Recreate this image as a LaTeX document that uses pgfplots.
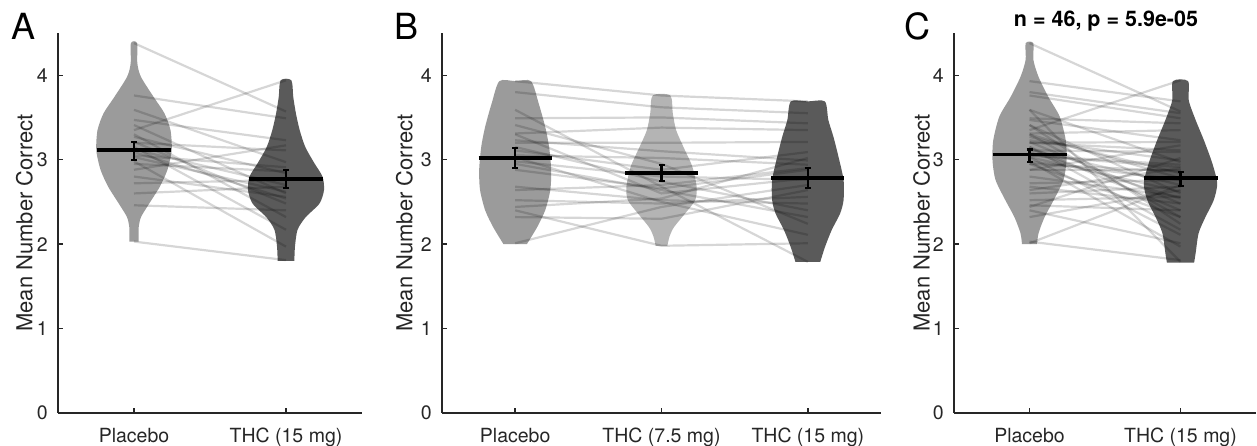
\documentclass[border=0pt]{standalone}
\usepackage{fontspec}
\setmainfont{TeX Gyre Heros}
\usepackage{pgfplots}
\usepackage{pgfplotstable}
\pgfplotsset{compat=1.18}

\definecolor{axc}{HTML}{262626}
\definecolor{vP}{HTML}{9B9B9B}
\definecolor{vM}{HTML}{B4B4B4}
\definecolor{vH}{HTML}{5A5A5A}

% ---------- paired subject lines ----------
\pgfplotstableread{
s x y
0 1 4.38
0 2 3.57
1 1 3.76
1 2 3.49
2 1 3.59
2 2 2.97
3 1 3.47
3 2 3.23
4 1 3.41
4 2 2.60
5 1 3.35
5 2 3.94
6 1 3.30
6 2 2.32
7 1 3.27
7 2 2.84
8 1 3.21
8 2 2.48
9 1 3.20
9 2 3.11
10 1 3.15
10 2 2.17
11 1 3.12
11 2 2.70
12 1 3.09
12 2 2.54
13 1 3.05
13 2 2.91
14 1 3.03
14 2 2.62
15 1 2.98
15 2 1.97
16 1 2.95
16 2 2.86
17 1 2.88
17 2 3.17
18 1 2.80
18 2 2.56
19 1 2.72
19 2 2.76
20 1 2.60
20 2 2.68
21 1 2.46
21 2 2.40
22 1 2.03
22 2 1.81
}\linesA

\pgfplotstableread{
s x y
0 1 3.93
0 2 3.76
0 3 3.69
1 1 3.80
1 2 3.62
1 3 3.55
2 1 3.59
2 2 2.68
2 3 1.79
3 1 3.49
3 2 3.50
3 3 3.43
4 1 3.41
4 2 2.95
4 3 2.24
5 1 3.31
5 2 3.38
5 3 3.35
6 1 3.30
6 2 2.60
6 3 2.78
7 1 3.23
7 2 3.10
7 3 2.99
8 1 3.20
8 2 3.20
8 3 3.21
9 1 3.15
9 2 2.74
9 3 2.40
10 1 3.11
10 2 2.88
10 3 3.09
11 1 3.05
11 2 3.02
11 3 2.94
12 1 3.03
12 2 2.50
12 3 2.11
13 1 2.98
13 2 2.80
13 3 2.76
14 1 2.95
14 2 2.64
14 3 2.32
15 1 2.88
15 2 2.66
15 3 2.88
16 1 2.68
16 2 2.52
16 3 2.48
17 1 2.64
17 2 2.70
17 3 2.90
18 1 2.52
18 2 2.48
18 3 2.56
19 1 2.44
19 2 2.54
19 3 3.02
20 1 2.40
20 2 1.98
20 3 2.01
21 1 2.32
21 2 2.30
21 3 2.64
22 1 2.01
22 2 2.44
22 3 2.70
}\linesB

\pgfplotstableread{
s x y
0 1 4.38
0 2 3.57
1 1 3.76
1 2 3.49
2 1 3.59
2 2 2.97
3 1 3.47
3 2 3.23
4 1 3.41
4 2 2.60
5 1 3.35
5 2 3.94
6 1 3.30
6 2 2.32
7 1 3.27
7 2 2.84
8 1 3.21
8 2 2.48
9 1 3.20
9 2 3.11
10 1 3.15
10 2 2.17
11 1 3.12
11 2 2.70
12 1 3.09
12 2 2.54
13 1 3.05
13 2 2.91
14 1 3.03
14 2 2.62
15 1 2.98
15 2 1.97
16 1 2.95
16 2 2.86
17 1 2.88
17 2 3.17
18 1 2.80
18 2 2.56
19 1 2.72
19 2 2.76
20 1 2.60
20 2 2.68
21 1 2.46
21 2 2.40
22 1 2.03
22 2 1.81
23 1 3.93
23 2 3.69
24 1 3.80
24 2 3.55
25 1 3.59
25 2 1.79
26 1 3.49
26 2 3.43
27 1 3.41
27 2 2.24
28 1 3.31
28 2 3.35
29 1 3.30
29 2 2.78
30 1 3.23
30 2 2.99
31 1 3.20
31 2 3.21
32 1 3.15
32 2 2.40
33 1 3.11
33 2 3.09
34 1 3.05
34 2 2.94
35 1 3.03
35 2 2.11
36 1 2.98
36 2 2.76
37 1 2.95
37 2 2.32
38 1 2.88
38 2 2.88
39 1 2.68
39 2 2.48
40 1 2.64
40 2 2.90
41 1 2.52
41 2 2.56
42 1 2.44
42 2 3.02
43 1 2.40
43 2 2.01
44 1 2.32
44 2 2.64
45 1 2.01
45 2 2.70
}\linesC

\pgfplotsset{
  panel/.style={
    scale only axis, height=380pt,
    ymin=0, ymax=4.5, ytick={0,1,2,3,4},
    axis x line*=bottom, axis y line*=left,
    axis line style={line width=2pt, color=axc},
    every tick/.style={line width=1.4pt, color=axc},
    major tick length=5pt, tick align=inside,
    tick label style={font=\fontsize{19.5}{23}\selectfont, color=axc},
    xticklabel style={inner sep=0pt, yshift=-15pt},
    yticklabel style={inner sep=0pt, xshift=-10pt},
    /pgf/number format/assume math mode=true,
    ylabel={Mean Number Correct},
    ylabel style={font=\fontsize{22}{26}\selectfont, color=axc, inner sep=0pt, anchor=south},
  },
  pair/.style={black, draw opacity=0.16, line width=2.2pt},
  vio/.style={draw=none, smooth, tension=0.45},
  mean/.style={black, line width=4pt},
  ebar/.style={draw=none, mark=none, error bars/.cd, y dir=both, y explicit,
    error bar style={draw=black, line width=2.2pt},
    error mark options={rotate=90, mark size=3pt, line width=2.2pt, draw=black}},
}

\begin{document}
\begin{tikzpicture}

% ================= A =================
\begin{axis}[panel, at={(58pt,33pt)}, anchor=south west, width=304pt,
  xmin=0.5, xmax=2.5, xtick={1,2}, xticklabels={Placebo, THC (15 mg)},
  ylabel style={at={(axis description cs:-0.082,0.5)}}]
  \addplot[vio, fill=vP] coordinates {(1.030,2.03) (1.030,2.10) (1.031,2.20) (1.046,2.32) (1.100,2.48) (1.170,2.68) (1.220,2.88) (1.248,3.11) (1.240,3.35) (1.200,3.55) (1.130,3.74) (1.046,3.98) (1.022,4.14) (1.020,4.38)
    (0.980,4.38) (0.978,4.14) (0.954,3.98) (0.870,3.74) (0.800,3.55) (0.760,3.35) (0.752,3.11) (0.780,2.88) (0.830,2.68) (0.900,2.48) (0.954,2.32) (0.969,2.20) (0.970,2.10) (0.970,2.03)};
  \addplot[vio, fill=vH] coordinates {(2.055,1.80) (2.059,1.97) (2.076,2.17) (2.130,2.32) (2.220,2.48) (2.250,2.64) (2.240,2.80) (2.186,2.96) (2.127,3.15) (2.090,3.35) (2.065,3.55) (2.048,3.74) (2.035,3.94)
    (1.965,3.94) (1.952,3.74) (1.935,3.55) (1.910,3.35) (1.873,3.15) (1.814,2.96) (1.760,2.80) (1.750,2.64) (1.780,2.48) (1.870,2.32) (1.924,2.17) (1.941,1.97) (1.945,1.80)};
  \pgfplotsinvokeforeach{0,...,22}{
    \addplot[pair] table[x=x, y=y, restrict expr to domain={\thisrow{s}}{#1:#1}] {\linesA};
  }
  \addplot[mean] coordinates {(0.757,3.11) (1.243,3.11)};
  \addplot[mean] coordinates {(1.755,2.77) (2.245,2.77)};
  \addplot[ebar] coordinates {(1,3.105) +- (0,0.105) (2,2.77) +- (0,0.11)};
\end{axis}

% ================= B =================
\begin{axis}[panel, at={(442pt,33pt)}, anchor=south west, width=439pt,
  xmin=0.5, xmax=3.5, xtick={1,2,3}, xticklabels={Placebo, THC (7.5 mg), THC (15 mg)},
  ylabel style={at={(axis description cs:-0.066,0.5)}}]
  \addplot[vio, fill=vP] coordinates {(1.080,2.00) (1.150,2.20) (1.205,2.40) (1.240,2.64) (1.246,2.88) (1.232,3.15) (1.205,3.39) (1.160,3.67) (1.108,3.93)
    (1.000,3.93) (0.892,3.93) (0.840,3.67) (0.795,3.39) (0.768,3.15) (0.754,2.88) (0.760,2.64) (0.795,2.40) (0.850,2.20) (0.920,2.00)};
  \addplot[vio, fill=vM] coordinates {(2.040,1.98) (2.055,2.09) (2.085,2.20) (2.160,2.36) (2.230,2.52) (2.240,2.68) (2.210,2.92) (2.150,3.15) (2.100,3.35) (2.077,3.55) (2.060,3.76)
    (1.940,3.76) (1.923,3.55) (1.900,3.35) (1.850,3.15) (1.790,2.92) (1.760,2.68) (1.770,2.52) (1.840,2.36) (1.915,2.20) (1.945,2.09) (1.960,1.98)};
  \addplot[vio, fill=vH] coordinates {(3.085,1.79) (3.118,1.97) (3.164,2.17) (3.220,2.36) (3.244,2.52) (3.244,2.76) (3.210,3.03) (3.175,3.27) (3.140,3.47) (3.116,3.69)
    (3.000,3.69) (2.884,3.69) (2.860,3.47) (2.825,3.27) (2.790,3.03) (2.756,2.76) (2.756,2.52) (2.780,2.36) (2.836,2.17) (2.882,1.97) (2.915,1.79)};
  \pgfplotsinvokeforeach{0,...,22}{
    \addplot[pair] table[x=x, y=y, restrict expr to domain={\thisrow{s}}{#1:#1}] {\linesB};
  }
  \addplot[mean] coordinates {(0.75,3.02) (1.25,3.02)};
  \addplot[mean] coordinates {(1.75,2.84) (2.25,2.84)};
  \addplot[mean] coordinates {(2.75,2.78) (3.25,2.78)};
  \addplot[ebar] coordinates {(1,3.02) +- (0,0.12) (2,2.845) +- (0,0.095) (3,2.78) +- (0,0.12)};
\end{axis}

% ================= C =================
\begin{axis}[panel, at={(954pt,33pt)}, anchor=south west, width=302pt,
  xmin=0.5, xmax=2.5, xtick={1,2}, xticklabels={Placebo, THC (15 mg)},
  ylabel style={at={(axis description cs:-0.079,0.5)}}]
  \addplot[vio, fill=vP] coordinates {(1.050,2.00) (1.060,2.13) (1.100,2.32) (1.160,2.52) (1.225,2.76) (1.245,2.99) (1.240,3.23) (1.200,3.51) (1.126,3.74) (1.060,3.98) (1.026,4.18) (1.025,4.38)
    (0.975,4.38) (0.974,4.18) (0.940,3.98) (0.874,3.74) (0.800,3.51) (0.760,3.23) (0.755,2.99) (0.775,2.76) (0.840,2.52) (0.900,2.32) (0.940,2.13) (0.950,2.00)};
  \addplot[vio, fill=vH] coordinates {(2.090,1.78) (2.100,1.89) (2.120,2.13) (2.165,2.32) (2.220,2.52) (2.243,2.72) (2.210,2.96) (2.155,3.23) (2.100,3.47) (2.055,3.70) (2.050,3.93)
    (1.950,3.93) (1.945,3.70) (1.900,3.47) (1.845,3.23) (1.790,2.96) (1.757,2.72) (1.780,2.52) (1.835,2.32) (1.880,2.13) (1.900,1.89) (1.910,1.78)};
  \pgfplotsinvokeforeach{0,...,45}{
    \addplot[pair] table[x=x, y=y, restrict expr to domain={\thisrow{s}}{#1:#1}] {\linesC};
  }
  \addplot[mean, line width=3.5pt] coordinates {(0.755,3.06) (1.245,3.06)};
  \addplot[mean, line width=3.5pt] coordinates {(1.755,2.78) (2.245,2.78)};
  \addplot[ebar] coordinates {(1,3.045) +- (0,0.075) (2,2.77) +- (0,0.08)};
\end{axis}

\node[font=\fontsize{36}{42}\selectfont, anchor=base west, inner sep=0pt] at (11pt,406.5pt) {A};
\node[font=\fontsize{36}{42}\selectfont, anchor=base west, inner sep=0pt] at (394pt,406.5pt) {B};
\node[font=\fontsize{36}{42}\selectfont, anchor=base west, inner sep=0pt] at (904pt,406.5pt) {C};
\node[font=\fontsize{21.5}{26}\selectfont\bfseries, anchor=base, inner sep=0pt] at (1106pt,419pt) {n = 46, p = 5.9e-05};

\pgfresetboundingbox
\path[use as bounding box] (0,0) rectangle (1257pt,446pt);
\end{tikzpicture}
\end{document}
